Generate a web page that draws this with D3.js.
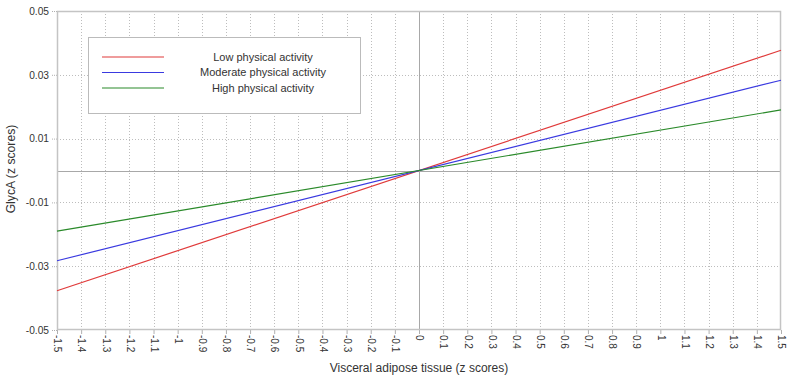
<!DOCTYPE html>
<html><head><meta charset="utf-8">
<script src="https://cdn.jsdelivr.net/npm/d3@7"></script>
<style>body{margin:0;background:#fff}svg{display:block}text{font-family:"Liberation Sans",Arial,sans-serif;fill:#333}</style>
</head><body><svg id="c" width="792" height="378"></svg>
<script>
const xTicks = [-1.5,-1.4,-1.3,-1.2,-1.1,-1,-0.9,-0.8,-0.7,-0.6,-0.5,-0.4,-0.3,-0.2,-0.1,0,0.1,0.2,0.3,0.4,0.5,0.6,0.7,0.8,0.9,1,1.1,1.2,1.3,1.4,1.5];
const yTicks = [0.05,0.03,0.01,-0.01,-0.03,-0.05];
const seriesNames = ["Low physical activity","Moderate physical activity","High physical activity"];
const seriesColors = ["#e03a3a","#3a3ae0","#2a8a2a"];
const xEnds = [-1.5, 1.5];
const lowVals = [-0.0377, 0.0377];
const modVals = [-0.0283, 0.0283];
const highVals = [-0.0190, 0.0190];
const series = [lowVals, modVals, highVals];

const svg = d3.select("#c");
const L=57,R=781,T=11,B=330;
const x = d3.scaleLinear().domain([-1.5,1.5]).range([L,R]);
const y = d3.scaleLinear().domain([-0.05,0.05]).range([B,T]);

// grid
const g = svg.append("g");
g.selectAll(".vg").data(xTicks.filter(d=>d!==0 && Math.abs(d)!==1.5)).enter().append("line")
 .attr("x1",d=>Math.round(x(d))+0.5).attr("x2",d=>Math.round(x(d))+0.5).attr("y1",T).attr("y2",B)
 .attr("stroke","#bdbdbd").attr("stroke-dasharray","1,2");
g.selectAll(".hg").data(yTicks.filter(d=>Math.abs(d)!==0.05)).enter().append("line")
 .attr("x1",L).attr("x2",R).attr("y1",d=>Math.round(y(d))+0.5).attr("y2",d=>Math.round(y(d))+0.5)
 .attr("stroke","#bdbdbd").attr("stroke-dasharray","1,2");
// zero lines
g.append("line").attr("x1",Math.round(x(0))+0.5).attr("x2",Math.round(x(0))+0.5).attr("y1",T).attr("y2",B).attr("stroke","#a8a8a8");
g.append("line").attr("x1",L).attr("x2",R).attr("y1",Math.round(y(0))+0.5).attr("y2",Math.round(y(0))+0.5).attr("stroke","#a8a8a8");

// axes
const xAxis = d3.axisBottom(x).tickValues(xTicks).tickSize(4).tickPadding(3).tickFormat(d=>String(+d.toFixed(1)));
const xg = svg.append("g").attr("transform",`translate(0,${B})`).call(xAxis);
xg.select(".domain").remove();
xg.selectAll(".tick line").attr("stroke","#b0b0b0");
xg.selectAll(".tick text").attr("font-size","10px").attr("fill","#333")
 .attr("transform","rotate(90)").attr("text-anchor","start").attr("dy","0.32em").attr("x",5).attr("y",0);

const yAxis = d3.axisLeft(y).tickValues(yTicks).tickSize(5).tickPadding(3).tickFormat(d=>String(+d.toFixed(2)));
const yg = svg.append("g").attr("transform",`translate(${L},0)`).call(yAxis);
yg.select(".domain").remove();
yg.selectAll(".tick line").attr("stroke","#b0b0b0").attr("stroke-dasharray","1,1");
yg.selectAll(".tick text").attr("font-size","10.2px").attr("fill","#333");

// frame
svg.append("rect").attr("x",L+0.5).attr("y",T+0.5).attr("width",R-L-1).attr("height",B-T-1)
 .attr("fill","none").attr("stroke","#c4c4c4").attr("stroke-width",1.5);

// lines
const line = d3.line().x((d,i)=>x(xEnds[i])).y(d=>y(d));
series.forEach((s,i)=>{
 svg.append("path").datum(s).attr("d",line).attr("fill","none").attr("stroke",seriesColors[i]).attr("stroke-width",1.2);
});

// legend
const lg = svg.append("g");
lg.append("rect").attr("x",88.5).attr("y",37.5).attr("width",272).attr("height",76).attr("fill","#fff").attr("stroke","#bbb");
seriesNames.forEach((n,i)=>{
 const yy = 57 + i*15.5;
 lg.append("line").attr("x1",102).attr("x2",164).attr("y1",yy).attr("y2",yy).attr("stroke",seriesColors[i]).attr("stroke-width",1.2);
 lg.append("text").attr("x",263).attr("y",yy).attr("dy","0.35em").attr("text-anchor","middle").attr("font-size","11px").text(n);
});

// axis titles
svg.append("text").attr("x",419).attr("y",372).attr("text-anchor","middle").attr("font-size","12px").text("Visceral adipose tissue (z scores)");
svg.append("text").attr("transform","translate(15,169) rotate(-90)").attr("text-anchor","middle").attr("font-size","12.2px").text("GlycA (z scores)");
</script></body></html>
